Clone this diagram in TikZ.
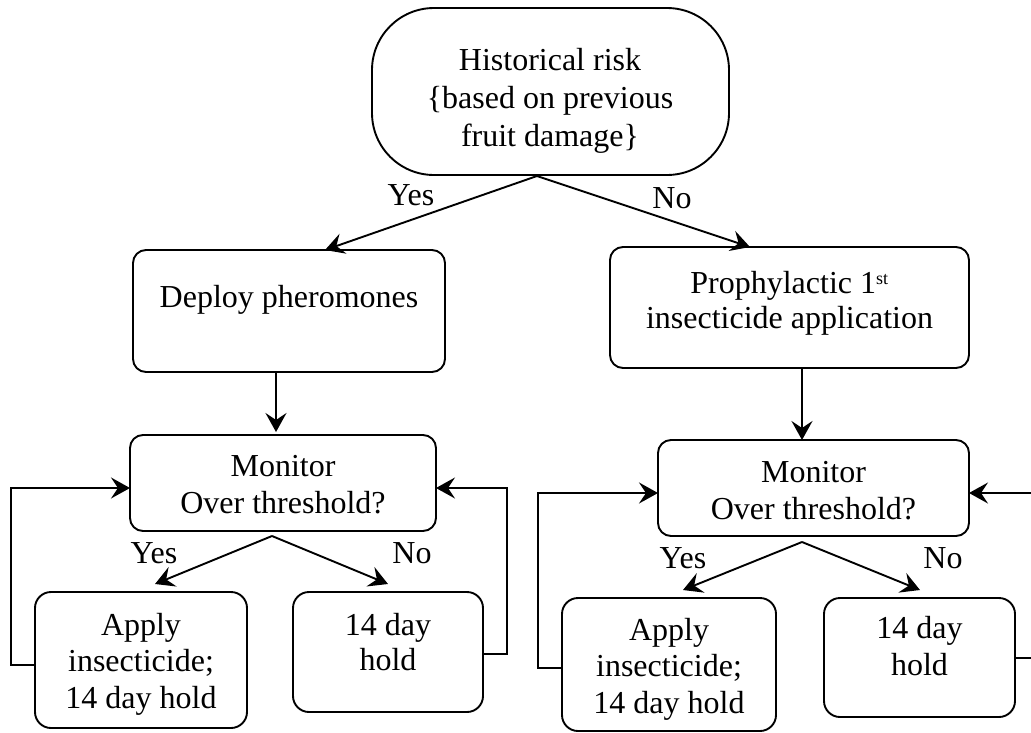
\documentclass[tikz,border=0pt]{standalone}
\usepackage{fontspec}
\setmainfont{Liberation Serif}
\usetikzlibrary{arrows.meta,calc}
\tikzset{
  box/.style={draw, line width=1.9pt, rounded corners=13pt, inner sep=0pt, outer sep=0pt},
  txt/.style={align=center, inner sep=0pt, font=\fontsize{32}{36.5}\selectfont},
  lbl/.style={inner sep=0pt, anchor=base, font=\fontsize{32}{36.5}\selectfont},
  arr/.style={line width=1.9pt, -{Stealth[length=19pt,width=21pt,inset=7pt]}},
  ln/.style={line width=1.9pt}
}
\begin{document}
\begin{tikzpicture}[x=1pt,y=-1pt]
\useasboundingbox (0,0) rectangle (1031,732);
\clip (0,0) rectangle (1031,732);
% boxes
\node[box, rounded corners=62pt, minimum width=357pt, minimum height=167pt] (top) at (550.5,91.5) {};
\node[box, minimum width=312pt, minimum height=122pt] (dp) at (289,311) {};
\node[box, minimum width=359pt, minimum height=121pt] (pr) at (789.5,307.5) {};
\node[box, minimum width=306pt, minimum height=96pt] (mon1) at (283,483) {};
\node[box, minimum width=311pt, minimum height=96pt] (mon2) at (813.5,488) {};
\node[box, rounded corners=16pt, minimum width=212pt, minimum height=136pt] (ap1) at (141,660) {};
\node[box, rounded corners=16pt, minimum width=190pt, minimum height=120pt] (h1) at (388,652) {};
\node[box, rounded corners=16pt, minimum width=214pt, minimum height=133pt] (ap2) at (669,664.5) {};
\node[box, rounded corners=16pt, minimum width=191pt, minimum height=119pt] (h2) at (919.5,657.5) {};
% texts
\node[txt, font=\fontsize{32}{38}\selectfont] (topt) at (550,101) {Historical risk\\\{based on previous\\fruit damage\}};
\node[txt] (dpt) at (289,300) {Deploy pheromones};
\node[txt, font=\fontsize{32}{35}\selectfont] (prt) at (789.5,303) {Prophylactic 1\textsuperscript{\fontsize{18}{18}\selectfont st}\\insecticide application};
\node[txt] (mon1t) at (283,484.5) {Monitor\\Over threshold?};
\node[txt] (mon2t) at (813.5,490.5) {Monitor\\Over threshold?};
\node[txt] (ap1t) at (141,664) {Apply\\insecticide;\\14 day hold};
\node[txt, font=\fontsize{32}{35}\selectfont] (h1t) at (388,642) {14 day\\hold};
\node[txt] (ap2t) at (669,669) {Apply\\insecticide;\\14 day hold};
\node[txt] (h2t) at (919.5,646) {14 day\\hold};
% split points
\coordinate (ts) at (537,176);
\coordinate (ms1) at (272,536);
\coordinate (ms2) at (802,542);
\coordinate (ms1a) at (155,584);
\coordinate (ms1b) at (388,584);
\coordinate (ms2a) at (683,590);
\coordinate (ms2b) at (920,590);
% arrows
\draw[arr] (ts) -- (325,0 |- dp.north);
\draw[arr] (ts) -- (750,0 |- pr.north);
\draw[arr] (276,0 |- dp.south) -- (276,432);
\draw[arr] (802,0 |- pr.south) -- (802,0 |- mon2.north);
\draw[arr] (ms1) -- (ms1a);
\draw[arr] (ms1) -- (ms1b);
\draw[arr] (ms2) -- (ms2a);
\draw[arr] (ms2) -- (ms2b);
% loops
\draw[arr] (ap1.west |- 0,665) -- (11,665) -- (11,488) -- (mon1.west |- 0,488);
\draw[arr] (h1.east |- 0,654) -- (507,654) -- (507,488) -- (mon1.east |- 0,488);
\draw[arr] (ap2.west |- 0,668) -- (538,668) -- (538,493) -- (mon2.west |- 0,493);
\draw[arr] (h2.east |- 0,658) -- (1045,658) -- (1045,493) -- (mon2.east |- 0,493);
% labels
\node[lbl] (y0) at (411,205) {Yes};
\node[lbl] (n0) at (672,208) {No};
\node[lbl] (y1) at (154,563) {Yes};
\node[lbl] (n1) at (412,563) {No};
\node[lbl] (y2) at (683,568) {Yes};
\node[lbl] (n2) at (943,568) {No};
\end{tikzpicture}
\end{document}
